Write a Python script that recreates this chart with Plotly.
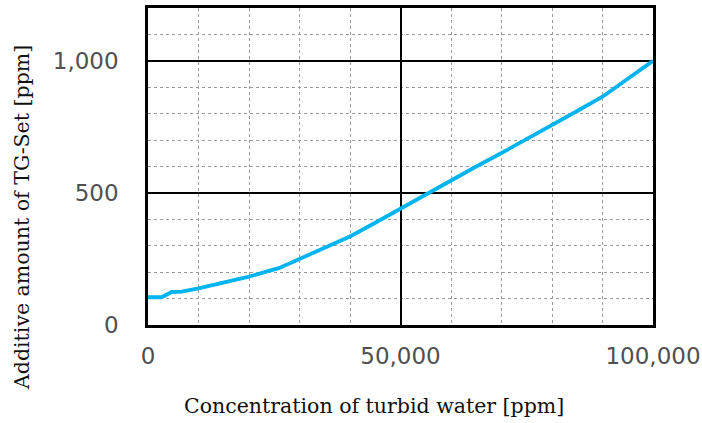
import plotly.graph_objects as go

# Data
turbid_ppm = [0, 2700, 4700, 6700, 10000, 15000, 20000, 26000, 30000, 35000,
              40000, 45000, 50000, 55500, 60000, 65000, 70000, 75000, 80000,
              85000, 90000, 95000, 100000]
tgset_ppm = [105, 105, 125, 126, 139, 160, 183, 216, 250, 290,
             335, 387, 441, 500, 547, 600, 651, 703, 754,
             810, 864, 931, 1000]

x_title = "Concentration of turbid water [ppm]"
y_title = "Additive amount of TG-Set [ppm]"

fig = go.Figure()
fig.add_trace(go.Scatter(
    x=turbid_ppm, y=tgset_ppm, mode="lines",
    line=dict(color="#00B4F0", width=3.8),
    showlegend=False, hoverinfo="skip",
))

tick_font = dict(family="DejaVu Sans", size=23, color="#505050")
title_font = dict(family="DejaVu Serif", size=20.5, color="#111111")

fig.update_xaxes(
    range=[0, 100000], dtick=50000, tickformat=",", tick0=0,
    showgrid=True, gridcolor="#000000", gridwidth=1.5,
    minor=dict(dtick=10000, showgrid=True, gridcolor="#9a9a9a", gridwidth=1, griddash="dot"),
    showline=True, linecolor="#000000", linewidth=2.5, mirror=True,
    ticks="", ticklabelstandoff=9, tickfont=tick_font, zeroline=False,
)
fig.update_yaxes(
    range=[0, 1200], dtick=500, tickformat=",", tick0=0,
    showgrid=True, gridcolor="#000000", gridwidth=1.5,
    minor=dict(dtick=100, showgrid=True, gridcolor="#9a9a9a", gridwidth=1, griddash="dot"),
    showline=True, linecolor="#000000", linewidth=2.5, mirror=True,
    ticks="", ticklabelstandoff=22, tickfont=tick_font, zeroline=False,
)

fig.add_annotation(text=x_title, xref="paper", yref="paper", x=0.4475, y=-0.255,
                   xanchor="center", yanchor="middle", showarrow=False, font=title_font)
fig.add_annotation(text=y_title, xref="paper", yref="paper", x=-0.2495, y=0.3375,
                   xanchor="center", yanchor="middle", showarrow=False, textangle=-90,
                   font=title_font)

fig.update_layout(
    width=702, height=423,
    margin=dict(l=148, r=49, t=8, b=98, autoexpand=False),
    paper_bgcolor="white", plot_bgcolor="white",
)

fig.write_html("out.html", config={"displayModeBar": False},
               post_script="document.body.style.margin='0';")
